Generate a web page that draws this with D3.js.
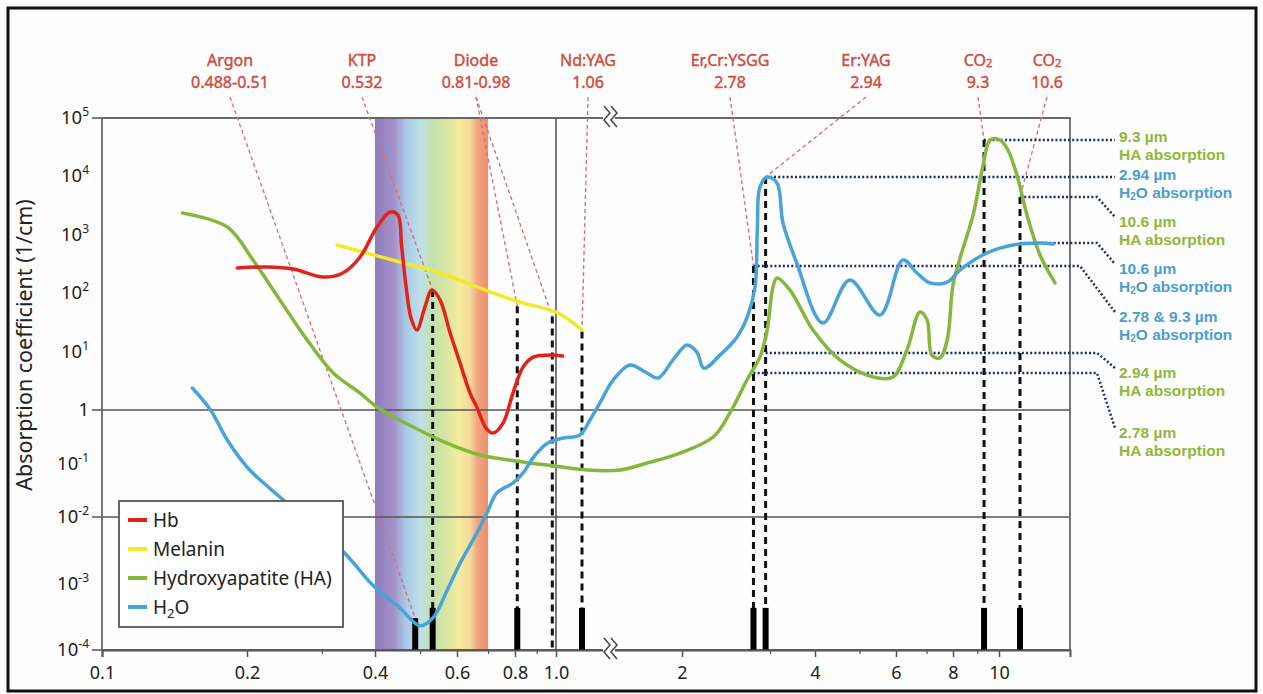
<!DOCTYPE html>
<html>
<head>
<meta charset="utf-8">
<script src="https://cdn.jsdelivr.net/npm/d3@7"></script>
<style>
  html, body { margin: 0; padding: 0; background: #fff; }
  svg { display: block; font-family: 'Noto Sans', 'Open Sans', sans-serif; }
</style>
</head>
<body>
<div id="container"></div>
<script>
// absorption curves, wavelength in µm / absorption coefficient in 1/cm
const hbWl = [0.191, 0.223, 0.257, 0.302, 0.336, 0.369, 0.404, 0.431, 0.448, 0.456, 0.466, 0.478, 0.492, 0.512, 0.530, 0.552, 0.580, 0.609, 0.640, 0.662, 0.693, 0.717, 0.754, 0.792, 0.836, 0.885, 0.956, 1.015]
const hbAbs = [270, 281, 260, 189, 222, 417, 1360, 2455, 2183, 668, 138, 37.6, 23.4, 58, 113, 76, 20.8, 6.4, 1.95, 1.12, 0.46, 0.37, 0.57, 1.95, 5.45, 8.1, 8.7, 8.4]

const melWl = [0.326, 0.452, 0.552, 0.707, 0.836, 1.004, 1.06]
const melAbs = [668, 342, 222, 105, 68, 46, 23.4]

const haWl = [0.147, 0.182, 0.2066, 0.239, 0.277, 0.319, 0.369, 0.404, 0.452, 0.483, 0.571, 0.673, 0.836, 0.989, 1.094, 1.349, 1.602, 1.976, 2.309, 2.494, 2.698, 2.864, 2.96, 3.058, 3.137, 3.41, 3.95, 4.53, 5.35, 5.91, 6.34, 6.77, 7.02, 7.19, 7.49, 7.77, 8.0, 8.28, 8.82, 9.26, 9.58, 10.03, 10.25, 10.51, 11.02, 11.85, 12.88]
const haAbs = [2362, 1361, 370, 76.5, 15.8, 4.3, 1.95, 1.12, 0.65, 0.48, 0.24, 0.144, 0.107, 0.090, 0.0757, 0.0757, 0.102, 0.157, 0.313, 0.88, 3.26, 8.1, 23.4, 128, 182, 113, 23.4, 7.2, 3.67, 3.67, 10.6, 47.6, 34.8, 8.7, 7.8, 15.8, 138, 401, 2183, 15670, 42000, 42000, 28300, 10570, 2183, 451, 150]

const h2oWl = [0.154, 0.168, 0.182, 0.2, 0.215, 0.239, 0.336, 0.396, 0.452, 0.500, 0.533, 0.571, 0.609, 0.662, 0.696, 0.731, 0.792, 0.836, 0.885, 0.956, 1.0174, 1.055, 1.115, 1.188, 1.291, 1.437, 1.582, 1.718, 1.889, 2.047, 2.142, 2.213, 2.382, 2.578, 2.71, 2.80, 2.83, 2.864, 2.96, 3.137, 3.26, 3.56, 4.16, 4.76, 5.54, 6.21, 6.67, 7.12, 7.77, 8.28, 9.43, 10.4, 11.85, 12.74]
const h2oAbs = [2.38, 1.0, 0.275, 0.086, 0.049, 0.0237, 0.00305, 0.00093, 0.000432, 0.000231, 0.000305, 0.00078, 0.00201, 0.00573, 0.0119, 0.0281, 0.0432, 0.0665, 0.132, 0.242, 0.30, 0.341, 0.65, 1.32, 3.26, 5.9, 4.5, 3.53, 7.2, 13.0, 9.8, 5.2, 8.7, 17.8, 42, 128, 1208, 6580, 9770, 7710, 1592, 329, 30.9, 168, 42.4, 370, 222, 150, 155, 250, 488, 669, 724, 696]

const seriesNames = ['Hb', 'Melanin', 'Hydroxyapatite (HA)', 'H2O']

// lasers
const laserNames = ['Argon', 'KTP', 'Diode', 'Nd:YAG', 'Er,Cr:YSGG', 'Er:YAG', 'CO2', 'CO2']
const laserValues = ['0.488-0.51', '0.532', '0.81-0.98', '1.06', '2.78', '2.94', '9.3', '10.6']
const lineWl = [0.488, 0.532, 0.81, 0.98, 1.06, 2.78, 2.94, 9.3, 10.6]
const lineTop = [3e-4, 113, 60, 40, 22, 292, 9770, 42000, 4440]
const barTop = [3e-4, 4.3e-4, 4.3e-4, 0, 4.3e-4, 4.3e-4, 4.3e-4, 4.3e-4, 4.3e-4]
const laserLines = [[0], [1], [2, 3], [4], [5], [6], [7], [8]]

// absorption levels on the right
const levelWl = [9.3, 2.94, 10.6, 10.6, 2.78, 2.94, 2.78]
const levelAbs = [42000, 9770, 4440, 724, 292, 9.5, 4.3]
const levelText = ['9.3 µm', '2.94 µm', '10.6 µm', '10.6 µm', '2.78 & 9.3 µm', '2.94 µm', '2.78 µm']
const levelOf = ['HA', 'H2O', 'HA', 'H2O', 'H2O', 'HA', 'HA']

// axis ticks
const xMajor = [0.1, 0.2, 0.4, 0.6, 0.8, 1, 2, 4, 6, 8, 10]
const xMinor = [0.3, 0.5, 0.7, 0.9, 3, 5, 7, 9]
const yExp = [5, 4, 3, 2, 1, 0, -1, -2, -3, -4]

// layout
const labelX = [230, 362, 476, 588, 730, 866, 978, 1047]
const levelBend = [0, 0, 1097, 1097, 1080, 1097, 1097]
const levelBase = [142, 180, 227, 274, 322, 378, 438]

const colors = { Hb: '#e3231b', Melanin: '#efea2a', HA: '#84b83c', H2O: '#4aa3d8' }
const textColors = { HA: '#8fb83a', H2O: '#4b9dd0' }
const labelRed = '#cf4a3c'

const width = 1263
const height = 694

const svg = d3.select('#container')
    .append('svg')
    .attr('width', width)
    .attr('height', height)

svg.append('rect').attr('width', width).attr('height', height).attr('fill', '#fdfdfd')

// broken log axis, the figure is hand drawn so the decades are not even
const x = d3.scaleLog()
    .domain([0.1, 0.2, 0.4, 0.6, 0.8, 1, 1.06, 2, 3, 4, 6, 8, 10, 10.6, 14])
    .range([102, 247, 375, 457, 515, 556, 582, 682, 770, 815, 896, 953, 999, 1020, 1070])
const y = d3.scaleLog()
    .domain([1e-4, 1e-2, 1, 1e5])
    .range([650, 517, 410, 118])

const x0 = x(0.1), x1 = x(14), yTop = y(1e5), yBot = y(1e-4)

// visible spectrum band
const grad = svg.append('defs').append('linearGradient').attr('id', 'spectrum')
const stops = [[0, '#8e7cbc'], [0.17, '#a392c8'], [0.27, '#a9c8e6'], [0.4, '#bfe0ea'], [0.5, '#c4e0b0'], [0.62, '#d3e5a2'], [0.74, '#f4ec9c'], [0.84, '#f6d99c'], [0.91, '#f0a47c'], [1, '#ec8f70']]
grad.selectAll('stop').data(stops).join('stop')
    .attr('offset', d => d[0])
    .attr('stop-color', d => d[1])
svg.append('rect')
    .attr('x', x(0.4)).attr('y', yTop)
    .attr('width', x(0.7) - x(0.4)).attr('height', yBot - yTop)
    .attr('fill', 'url(#spectrum)')

// horizontal rules at 1e5, 1, 1e-2, 1e-4
svg.selectAll('.rule').data([1e5, 1, 1e-2, 1e-4]).join('line')
    .attr('class', 'rule')
    .attr('x1', 92).attr('x2', x1)
    .attr('y1', d => y(d)).attr('y2', d => y(d))
    .attr('stroke', '#555').attr('stroke-width', 1.6)
svg.append('line')
    .attr('x1', x(1)).attr('x2', x(1)).attr('y1', yTop).attr('y2', yBot)
    .attr('stroke', '#333').attr('stroke-width', 1.3)
svg.append('rect')
    .attr('x', x0).attr('y', yTop).attr('width', x1 - x0).attr('height', yBot - yTop)
    .attr('fill', 'none').attr('stroke', '#666').attr('stroke-width', 1.8)

// pink pointers from laser names
laserLines.forEach((idx, i) => {
    idx.forEach(j => {
        svg.append('line')
            .attr('x1', labelX[i]).attr('y1', 97)
            .attr('x2', x(lineWl[j])).attr('y2', y(lineTop[j]))
            .attr('stroke', '#d9707c').attr('stroke-width', 1.4)
            .attr('stroke-dasharray', '4,3')
    })
})

// laser wavelength lines
lineWl.forEach((w, i) => {
    svg.append('line')
        .attr('x1', x(w)).attr('x2', x(w))
        .attr('y1', y(lineTop[i])).attr('y2', yBot)
        .attr('stroke', '#111').attr('stroke-width', 3)
        .attr('stroke-dasharray', '7,5')
    if (barTop[i]) {
        svg.append('line')
            .attr('x1', x(w)).attr('x2', x(w))
            .attr('y1', y(barTop[i])).attr('y2', yBot)
            .attr('stroke', '#000').attr('stroke-width', 6)
    }
})

// absorption level callouts, two lines in one text
const calloutFont = "'Liberation Sans', Arial, sans-serif"
levelWl.forEach((w, i) => {
    const ly = y(levelAbs[i])
    const pts = levelBend[i]
        ? [[x(w), ly], [levelBend[i], ly], [1115, levelBase[i] - 10]]
        : [[x(w), ly], [1115, ly]]
    svg.append('path')
        .attr('d', d3.line()(pts))
        .attr('fill', 'none')
        .attr('stroke', '#1f2a6b').attr('stroke-width', 2.5)
        .attr('stroke-dasharray', '2,2.2')
    const t = svg.append('text')
        .attr('x', 1119).attr('y', levelBase[i])
        .attr('font-family', calloutFont)
        .attr('font-size', 15.5).attr('font-weight', 'bold')
        .attr('fill', textColors[levelOf[i]])
    t.append('tspan').text(levelText[i])
    if (levelOf[i] === 'H2O') {
        t.append('tspan').attr('x', 1119).attr('dy', 18).text('H')
        t.append('tspan').text('2').attr('font-size', 10).attr('dy', 2)
        t.append('tspan').text('O absorption').attr('dy', -2)
    } else {
        t.append('tspan').attr('x', 1119).attr('dy', 18).text('HA absorption')
    }
})

// curves
const line = d3.line()
    .x(d => x(d[0]))
    .y(d => y(d[1]))
    .curve(d3.curveCatmullRom.alpha(0.5))
const curves = [
    [d3.zip(haWl, haAbs), colors.HA],
    [d3.zip(h2oWl, h2oAbs), colors.H2O],
    [d3.zip(melWl, melAbs), colors.Melanin],
    [d3.zip(hbWl, hbAbs), colors.Hb]
]
curves.forEach(c => {
    svg.append('path')
        .attr('d', line(c[0]))
        .attr('fill', 'none')
        .attr('stroke', c[1])
        .attr('stroke-width', 3.5)
        .attr('stroke-linejoin', 'round')
        .attr('stroke-linecap', 'round')
})

// laser labels on top
laserNames.forEach((n, i) => {
    const t = svg.append('text')
        .attr('x', labelX[i]).attr('y', 66)
        .attr('text-anchor', 'middle')
        .attr('font-size', 16)
        .attr('fill', labelRed).attr('stroke', labelRed).attr('stroke-width', 0.4)
    if (n === 'CO2') {
        t.append('tspan').text('CO')
        t.append('tspan').text('2').attr('font-size', 11).attr('dy', 1)
    } else {
        t.text(n)
    }
    svg.append('text')
        .attr('x', labelX[i]).attr('y', 88)
        .attr('text-anchor', 'middle')
        .attr('font-size', 16)
        .attr('fill', labelRed).attr('stroke', labelRed).attr('stroke-width', 0.4)
        .text(laserValues[i])
})

// x axis
const fmt = d => d === 1 ? '1.0' : d < 1 ? d.toFixed(1) : String(d)
const xAxis = svg.append('g')
    .attr('transform', `translate(0, ${yBot})`)
    .call(d3.axisBottom(x).tickValues(xMajor).tickFormat(fmt).tickSize(7).tickPadding(9))
xAxis.select('.domain').attr('stroke', '#555').attr('stroke-width', 2)
xAxis.selectAll('.tick line').attr('stroke', '#555').attr('stroke-width', 1.5)
xAxis.selectAll('.tick text')
    .attr('font-size', 18).attr('fill', '#222')
    .attr('font-family', "'Noto Sans', 'Open Sans', sans-serif")
const xMinorAxis = svg.append('g')
    .attr('transform', `translate(0, ${yBot})`)
    .call(d3.axisBottom(x).tickValues(xMinor).tickFormat('').tickSize(4))
xMinorAxis.select('.domain').remove()
xMinorAxis.selectAll('.tick line').attr('stroke', '#555').attr('stroke-width', 1.2)

// y axis labels with exponents
yExp.forEach(e => {
    const t = svg.append('text')
        .attr('x', 89).attr('y', y(Math.pow(10, e)) + 6)
        .attr('text-anchor', 'end')
        .attr('font-size', 18.5)
        .attr('fill', '#222')
    if (e === 0) {
        t.text('1')
    } else {
        t.append('tspan').text('10')
        t.append('tspan').text(String(e)).attr('font-size', 12).attr('dy', -8)
    }
})
svg.append('text')
    .attr('transform', 'translate(32, 345) rotate(-90)')
    .attr('text-anchor', 'middle')
    .attr('font-size', 21.5)
    .attr('fill', '#222')
    .text('Absorption coefficient (1/cm)')

// axis break marks
const bx = x(1.25)
;[yTop, yBot].forEach(by => {
    svg.append('rect').attr('x', bx - 5).attr('y', by - 2).attr('width', 12).attr('height', 4).attr('fill', '#fdfdfd')
    ;[0, 7].forEach(dx => {
        svg.append('path')
            .attr('d', `M${bx - 4 + dx},${by - 12} L${bx + 2 + dx},${by - 5} L${bx - 4 + dx},${by + 2} L${bx + 2 + dx},${by + 9}`)
            .attr('fill', 'none').attr('stroke', '#444').attr('stroke-width', 1.5)
    })
})

// legend
const legend = svg.append('g').attr('id', 'legend')
legend.append('rect')
    .attr('x', 119).attr('y', 501).attr('width', 224).attr('height', 126)
    .attr('fill', '#fff').attr('stroke', '#555').attr('stroke-width', 1.8)
const legendColors = [colors.Hb, colors.Melanin, colors.HA, colors.H2O]
seriesNames.forEach((n, i) => {
    const ly = 520 + i * 29
    legend.append('line')
        .attr('x1', 128).attr('x2', 147).attr('y1', ly).attr('y2', ly)
        .attr('stroke', legendColors[i]).attr('stroke-width', 4)
    const t = legend.append('text')
        .attr('x', 153).attr('y', ly + 6.5)
        .attr('font-size', 19)
        .attr('fill', '#222')
    if (n === 'H2O') {
        t.append('tspan').text('H')
        t.append('tspan').text('2').attr('font-size', 13).attr('dy', 4)
        t.append('tspan').text('O').attr('dy', -4)
    } else {
        t.text(n)
    }
})

// outer frame
svg.append('rect')
    .attr('x', 8).attr('y', 8).attr('width', 1248).attr('height', 683)
    .attr('fill', 'none').attr('stroke', '#111').attr('stroke-width', 3)
</script>
</body>
</html>
